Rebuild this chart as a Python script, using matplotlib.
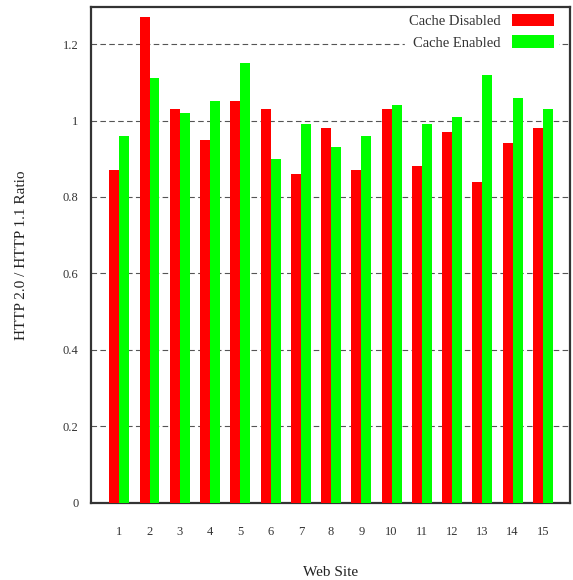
import matplotlib
matplotlib.use("Agg")
import matplotlib.pyplot as plt
import numpy as np

sites = [str(i) for i in range(1, 16)]
cache_disabled = [0.87, 1.27, 1.03, 0.95, 1.05, 1.03, 0.86, 0.98, 0.87, 1.03, 0.88, 0.97, 0.84, 0.94, 0.98]
cache_enabled = [0.96, 1.11, 1.02, 1.05, 1.15, 0.90, 0.99, 0.93, 0.96, 1.04, 0.99, 1.01, 1.12, 1.06, 1.03]
yticks = [0, 0.2, 0.4, 0.6, 0.8, 1.0, 1.2]
ytick_labels = ["0", "0.2", "0.4", "0.6", "0.8", "1", "1.2"]

plt.rcParams['font.family'] = ['Liberation Serif', 'DejaVu Serif']

fig = plt.figure(figsize=(5.73, 5.80), dpi=100)
ax = fig.add_axes([0.159, 0.133, 0.836, 0.855])

x = np.arange(1, len(sites) + 1)
w = 0.33
ax.bar(x - w / 2, cache_disabled, width=w, color='#ff0000', label='Cache Disabled', zorder=3)
ax.bar(x + w / 2, cache_enabled, width=w, color='#00ff00', label='Cache Enabled', zorder=3)

ax.set_xlim(0.07, 15.9)
ax.set_ylim(0, 1.297)
ax.set_xticks(x)
ax.set_xticklabels(sites, fontsize=9, color='#333333')
ax.set_yticks(yticks)
ax.set_yticklabels(ytick_labels, fontsize=9, color='#333333')
ax.tick_params(axis='both', length=0)
ax.tick_params(axis='x', pad=17)
ax.tick_params(axis='y', pad=9)

for yv in yticks[1:]:
    ax.axhline(yv, color='#555555', lw=0.8, dashes=(5, 3), zorder=1)

for s in ax.spines.values():
    s.set_linewidth(1.6)
    s.set_color('#333333')

ax.set_xlabel('Web Site', fontsize=11, labelpad=20, color='#222222')
ax.set_ylabel('HTTP 2.0 / HTTP 1.1 Ratio', fontsize=11, labelpad=25, color='#222222')

leg = ax.legend(loc='upper right', bbox_to_anchor=(0.975, 0.995), markerfirst=False,
                frameon=True, fontsize=10.5,
                handlelength=2.85, handleheight=0.95, handletextpad=0.8,
                labelspacing=0.5, borderaxespad=0.0, borderpad=0.3, fancybox=False)
leg.get_frame().set_edgecolor('white')
leg.get_frame().set_facecolor('white')
leg.get_frame().set_alpha(1.0)
leg.set_zorder(5)
for t in leg.get_texts():
    t.set_color('#333333')

fig.savefig('out.png', dpi=100)
